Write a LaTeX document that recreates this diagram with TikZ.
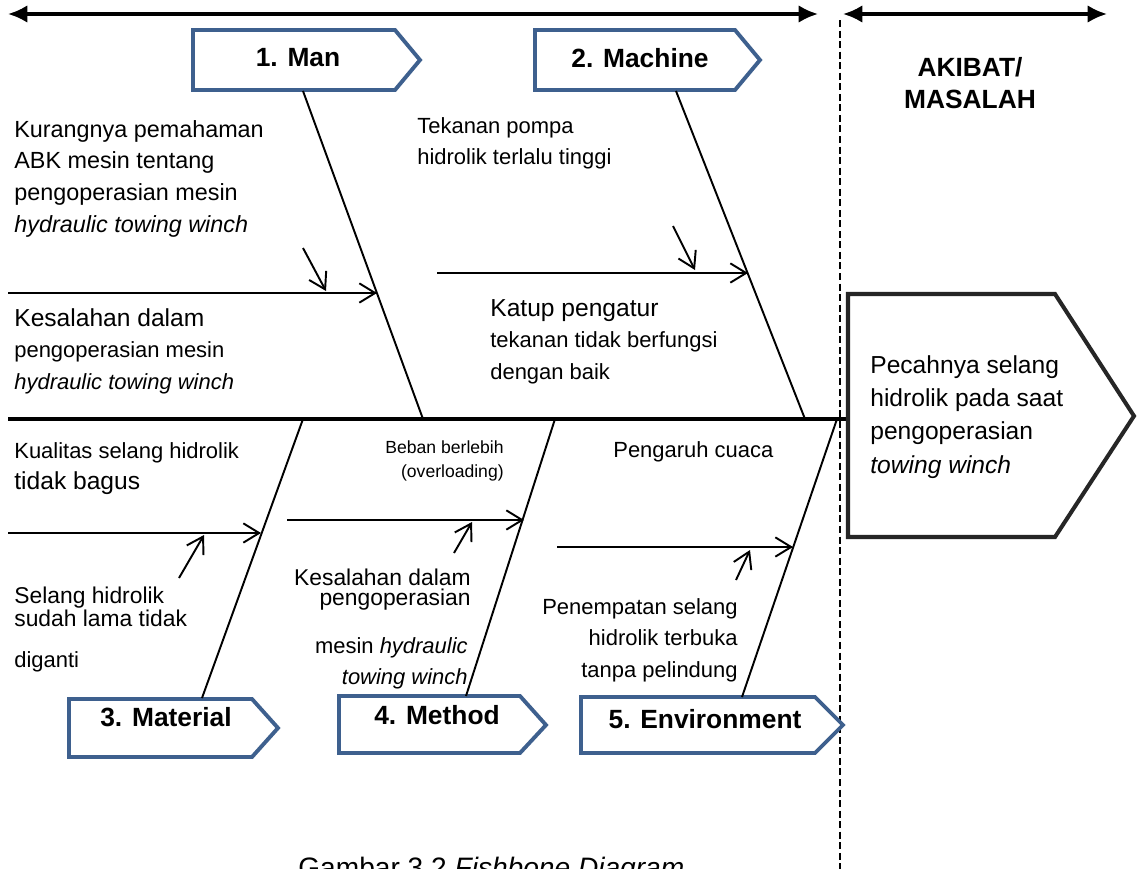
\documentclass[tikz,border=0pt]{standalone}
\usepackage{fontspec}
\setmainfont{Liberation Sans}
\usetikzlibrary{arrows.meta}
\definecolor{boxblue}{RGB}{62,96,142}
\newcommand{\bigline}[1]{{\fontsize{14}{18}\selectfont #1}}

\tikzset{
  spine/.style={line width=2.8pt},
  bone/.style={line width=1.1pt},
  cause/.style={line width=1.1pt, -{Straight Barb[length=9pt,width=11pt]}},
  span/.style={line width=1.8pt, {Latex[length=11pt,width=10pt]}-{Latex[length=11pt,width=10pt]}},
  catbox/.style={draw=boxblue, line width=2.2pt, fill=white},
  catlabel/.style={font=\fontsize{15}{18}\bfseries\selectfont, inner sep=0},
  txt/.style={font=\fontsize{12.5}{18}\selectfont, inner sep=0, align=left, anchor=north west},
  tight/.style={font=\fontsize{13}{11}\selectfont},
}

\begin{document}
\begin{tikzpicture}[x=0.02cm, y=-0.02cm]
    \clip (0,0) rectangle (1137,869);
    \fill [white] (0,0) rectangle (1137,869);

    % span arrows and divider
    \draw [span] (8,14) -- (818,14);
    \draw [span] (843,14) -- (1107,14);
    \draw [dashed, dash pattern=on 4pt off 2pt, line width=0.8pt] (840,20) -- (840,869);

    % spine and effect
    \draw [spine] (8,419) -- (848,419);
    \draw [line width=2.3pt, draw=black!85] (848,294) -- (1055,294) -- (1134,416) -- (1055,537) -- (848,537) -- cycle;
    \node [txt, font=\fontsize{14}{19}\selectfont] (effect) at (870,355)
        {Pecahnya selang\\hidrolik pada saat\\pengoperasian\\\textit{towing winch}};
    \node [catlabel, align=center, anchor=north] (akibat) at (970,57) {AKIBAT/\\MASALAH};

    % category boxes
    \draw [catbox] (193,30) -- (395,30) -- (420,60) -- (395,90) -- (193,90) -- cycle;
    \draw [catbox] (535,30) -- (735,30) -- (760,60) -- (735,90) -- (535,90) -- cycle;
    \draw [catbox] (69,699) -- (252,699) -- (278,728) -- (252,757) -- (69,757) -- cycle;
    \draw [catbox] (339,696) -- (520,696) -- (546,725) -- (520,753) -- (339,753) -- cycle;
    \draw [catbox] (581,697) -- (815,697) -- (843,725) -- (815,753) -- (581,753) -- cycle;
    \path (298,58)  node [catlabel] (man)  {1. Man}
          (640,58)  node [catlabel] (machine) {2. Machine}
          (166,717) node [catlabel] (material) {3. Material}
          (437,715) node [catlabel] (method) {4. Method}
          (705,719) node [catlabel] (environment) {5. Environment};

    % bone ends
    \coordinate (manhead) at (303,91);   \coordinate (manfoot) at (423,419);
    \coordinate (machead) at (676,91);   \coordinate (macfoot) at (805,419);
    \coordinate (mathead) at (202,698);  \coordinate (matfoot) at (303,419);
    \coordinate (methead) at (466,696);  \coordinate (metfoot) at (555,419);
    \coordinate (envhead) at (742,697);  \coordinate (envfoot) at (837,419);
    \foreach \b in {man,mac,mat,met,env}
        \draw [bone] (\b head) -- (\b foot);

    % cause arrows
    \coordinate (manc) at (8,293);    \coordinate (manj) at (377,293);
    \coordinate (mans) at (303,248);  \coordinate (mant) at (326,291);
    \coordinate (macc) at (437,273);  \coordinate (macj) at (748,273);
    \coordinate (macs) at (673,226);  \coordinate (mact) at (695,270);
    \coordinate (matc) at (8,533);    \coordinate (matj) at (261,533);
    \coordinate (mats) at (179,578);  \coordinate (matt) at (204,535);
    \coordinate (metc) at (287,520);  \coordinate (metj) at (524,520);
    \coordinate (mets) at (454,553);  \coordinate (mett) at (472,522);
    \coordinate (envc) at (557,547);  \coordinate (envj) at (793,547);
    \coordinate (envs) at (736,580);  \coordinate (envt) at (750,550);
    \foreach \b in {man,mac,mat,met,env} {
        \draw [cause] (\b c) -- (\b j);
        \draw [cause] (\b s) -- (\b t);
    }

    % man
    \node [txt, font=\fontsize{13.3}{18}\selectfont] (man1) at (14,120)
        {Kurangnya pemahaman\\ABK mesin tentang\\pengoperasian mesin\\\textit{hydraulic towing winch}};
    \node [txt] (man2) at (14,308)
        {\bigline{Kesalahan dalam}\\pengoperasian mesin\\\textit{hydraulic towing winch}};

    % machine
    \node [txt] (mac1) at (417,117) {Tekanan pompa\\hidrolik terlalu tinggi};
    \node [txt] (mac2) at (490,299)
        {\bigline{Katup pengatur}\\tekanan tidak berfungsi\\dengan baik};

    % material
    \node [txt] (mat1) at (14,442) {Kualitas selang hidrolik\\\bigline{tidak bagus}};
    \node [txt, tight] (mat2) at (14,587) {Selang hidrolik\\sudah lama tidak};
    \node [txt] (mat3) at (14,651) {diganti};

    % method
    \node [txt, font=\fontsize{10}{14}\selectfont, align=right, anchor=north east] (met1) at (504,440)
        {Beban berlebih\\(overloading)};
    \node [txt, tight, align=right, anchor=north east] (met2) at (471,569)
        {Kesalahan dalam\\pengoperasian};
    \node [txt, align=right, anchor=north east] (met3) at (468,637)
        {mesin \textit{hydraulic}\\\textit{towing winch}};

    % environment
    \node [txt] (env1) at (613,441) {Pengaruh cuaca};
    \node [txt, align=right, anchor=north east] (env2) at (738,598)
        {Penempatan selang\\hidrolik terbuka\\tanpa pelindung};

    \node [anchor=base west, inner sep=0, font=\fontsize{16}{18}\selectfont] (caption) at (298,877)
        {Gambar 3.2 \textit{Fishbone Diagram}};
\end{tikzpicture}
\end{document}
